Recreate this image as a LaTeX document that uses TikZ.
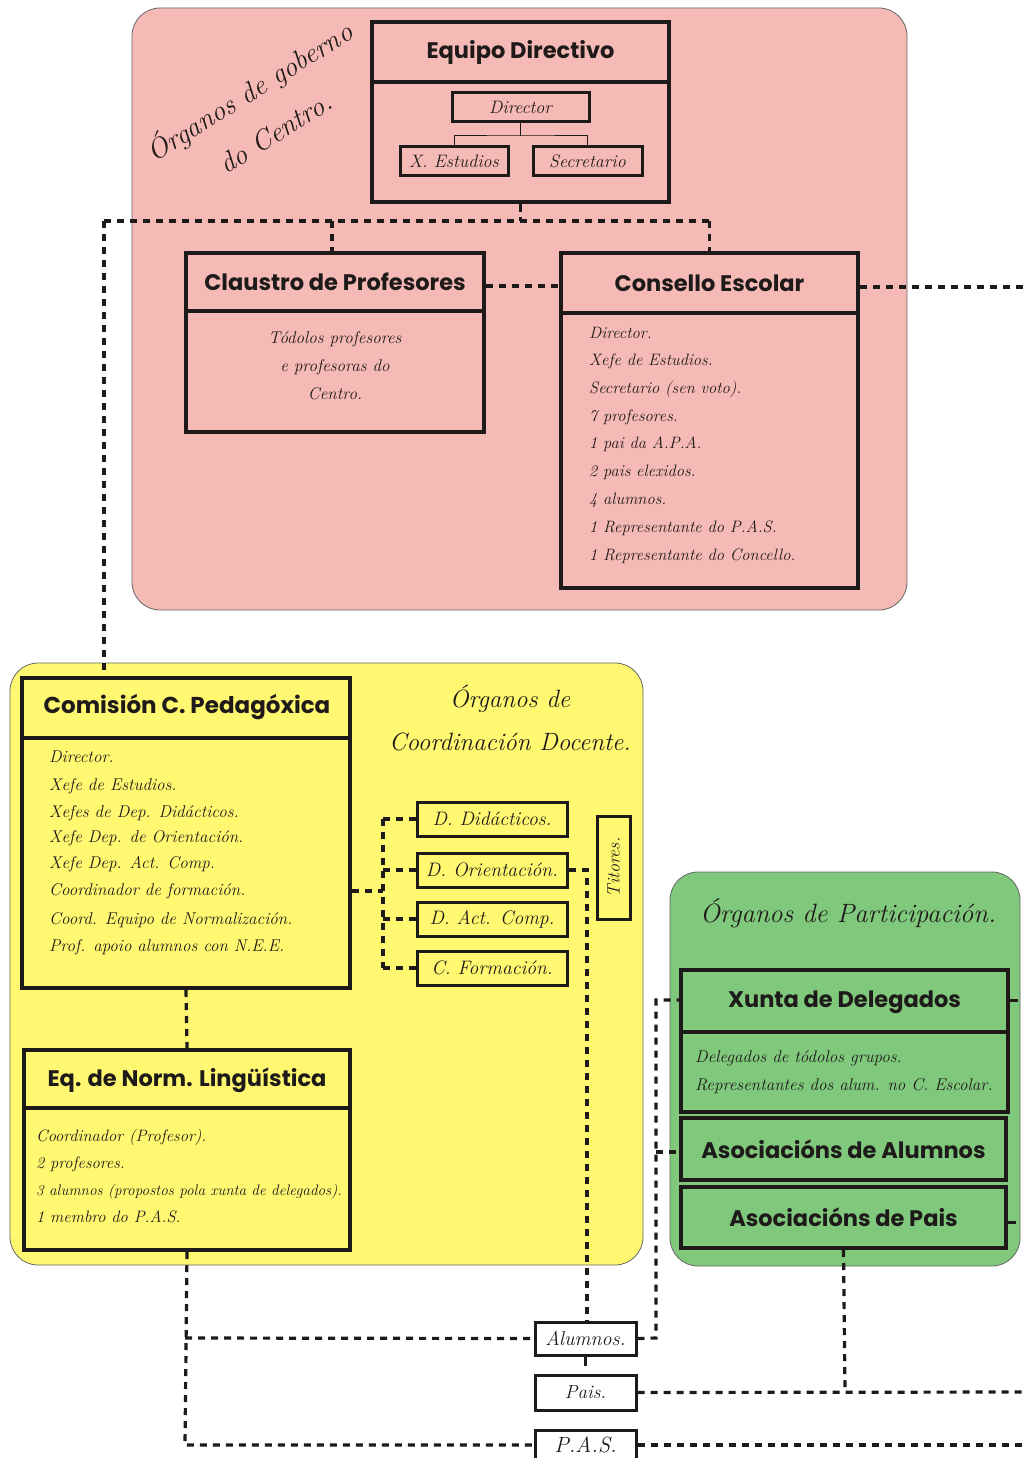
\documentclass[tikz,border=0pt]{standalone}
\usepackage{fontspec}
\newfontfamily\hdr{Poppins}
\definecolor{pinkbg}{RGB}{245,186,181}
\definecolor{yellowbg}{RGB}{255,248,112}
\definecolor{greenbg}{RGB}{128,200,124}
\definecolor{ink}{RGB}{30,26,26}
\tikzset{
  bigbox/.style={draw=ink, line width=4pt, inner sep=0pt},
  smallbox/.style={draw=ink, line width=3pt, inner sep=0pt},
  divider/.style={draw=ink, line width=4pt},
  treeline/.style={draw=ink, line width=1pt},
  dashline/.style={draw=ink, line width=3.2pt, dash pattern=on 7pt off 6pt},
  stub/.style={draw=ink, line width=3pt},
  hdrtext/.style={text=ink, inner sep=1pt, font=\hdr\bfseries\fontsize{22.5}{24}\selectfont},
  bodytext/.style={text=ink, anchor=west, inner sep=1pt, font=\itshape\fontsize{16.5}{18}\selectfont},
  bodyc/.style={text=ink, inner sep=1pt, font=\itshape\fontsize{18}{20}\selectfont},
  titletext/.style={text=ink, inner sep=1pt, font=\itshape\fontsize{25}{28}\selectfont},
  bgarea/.style={draw=black!60, line width=0.8pt, rounded corners=28pt}
}
\begin{document}
\begin{tikzpicture}[x=1pt,y=-1pt]
\useasboundingbox (0,0) rectangle (1026,1458);
\fill[white] (0,0) rectangle (1026,1458);
% background areas
\draw[bgarea, fill=pinkbg] (132,8) rectangle (907,610);
\draw[bgarea, fill=yellowbg] (10,663) rectangle (643,1265);
\draw[bgarea, fill=greenbg] (670,872) rectangle (1020,1266);

% titles
\node[titletext, font=\itshape\fontsize{28}{48}\selectfont, rotate=32, align=center] (tg) at (261,110) {Órganos de goberno\\do Centro.};
\node[titletext, align=center, font=\itshape\fontsize{25}{43}\selectfont] (tc) at (510,718) {Órganos de\\Coordinación Docente.};
\node[titletext, font=\itshape\fontsize{26.5}{30}\selectfont] (tp) at (848,913) {Órganos de Participación.};

% Equipo Directivo
\node[bigbox, minimum width=297, minimum height=180] (equipo) at (520.5,112) {};
\draw[divider] (372,82) -- (669,82);
\node[hdrtext] (equipoh) at (520.5,52) {Equipo Directivo};
\node[smallbox, minimum width=137, minimum height=29] (director) at (520.5,107.5) {};
\node[bodyc] (directort) at (director.center) {Director};
\node[smallbox, minimum width=108, minimum height=29] (xest) at (454,161.5) {};
\node[bodyc] (xestt) at (xest.center) {X. Estudios};
\node[smallbox, minimum width=109, minimum height=29] (secre) at (587.5,161.5) {};
\node[bodyc] (secret) at (secre.center) {Secretario};
\coordinate (tj) at (520.5,136);
\draw[treeline] (director.south) -- (tj);
\draw[treeline] (xest.north) |- (tj) -| (secre.north);

% Claustro
\node[bigbox, minimum width=298, minimum height=179] (claustro) at (335,342.5) {};
\draw[divider] (186,311) -- (484,311);
\node[hdrtext] (claustroh) at (335,282) {Claustro de Profesores};
\node[bodyc, align=center, font=\itshape\fontsize{17}{28}\selectfont] (claustrob) at (335,366) {Tódolos profesores\\e profesoras do\\Centro.};

% Consello
\node[bigbox, minimum width=297, minimum height=335] (consello) at (709.5,420.5) {};
\draw[divider] (561,313) -- (858,313);
\node[hdrtext] (consh) at (709.5,283) {Consello Escolar};
\node[bodytext] (c1) at (588,333) {Director.};
\node[bodytext] (c2) at (588,361) {Xefe de Estudios.};
\node[bodytext] (c3) at (588,389) {Secretario (sen voto).};
\node[bodytext] (c4) at (588,417) {7 profesores.};
\node[bodytext] (c5) at (588,444) {1 pai da A.P.A.};
\node[bodytext] (c6) at (588,472) {2 pais elexidos.};
\node[bodytext] (c7) at (588,500) {4 alumnos.};
\node[bodytext] (c8) at (588,528) {1 Representante do P.A.S.};
\node[bodytext] (c9) at (588,556) {1 Representante do Concello.};

% Comisión
\node[bigbox, minimum width=328, minimum height=310] (comision) at (186,833) {};
\draw[divider] (22,738) -- (350,738);
\node[hdrtext, font=\hdr\bfseries\fontsize{23}{24}\selectfont] (comh) at (187,707) {Comisión C. Pedagóxica};
\tikzset{comtext/.style={bodytext, font=\itshape\fontsize{17}{18}\selectfont}}
\node[comtext] (m1) at (48,757) {Director.};
\node[comtext] (m2) at (48,786) {Xefe de Estudios.};
\node[comtext] (m3) at (48,813) {Xefes de Dep. Didácticos.};
\node[comtext] (m4) at (48,838) {Xefe Dep. de Orientación.};
\node[comtext] (m5) at (48,864) {Xefe Dep. Act. Comp.};
\node[comtext] (m6) at (48,891) {Coordinador de formación.};
\node[comtext] (m7) at (48,920) {Coord. Equipo de Normalización.};
\node[comtext] (m8) at (48,947) {Prof. apoio alumnos con N.E.E.};

% Eq. Norm
\node[bigbox, minimum width=326, minimum height=200] (eqnorm) at (187,1150) {};
\draw[divider] (24,1108) -- (350,1108);
\node[hdrtext] (eqh) at (187,1080) {Eq. de Norm. Lingüística};
\node[bodytext] (e1) at (35,1137) {Coordinador (Profesor).};
\node[bodytext] (e2) at (35,1164) {2 profesores.};
\node[bodytext, font=\itshape\fontsize{15.2}{17}\selectfont] (e3) at (35,1192) {3 alumnos (propostos pola xunta de delegados).};
\node[bodytext] (e4) at (35,1217) {1 membro do P.A.S.};

% Departments
\tikzset{depbox/.style={smallbox, minimum width=150, minimum height=34}}
\node[depbox] (ddid) at (492,819) {};
\node[bodyc, font=\itshape\fontsize{19.5}{21}\selectfont] (ddidt) at (ddid.center) {D. Didácticos.};
\node[depbox] (dori) at (492,870) {};
\node[bodyc, font=\itshape\fontsize{19.5}{21}\selectfont] (dorit) at (dori.center) {D. Orientación.};
\node[depbox] (dact) at (492,919) {};
\node[bodyc, font=\itshape\fontsize{19.5}{21}\selectfont] (dactt) at (dact.center) {D. Act. Comp.};
\node[depbox] (cfor) at (492,968) {};
\node[bodyc, font=\itshape\fontsize{19.5}{21}\selectfont] (cfort) at (cfor.center) {C. Formación.};
\node[smallbox, minimum width=33, minimum height=103] (titores) at (613.5,867.5) {};
\node[bodyc, rotate=90, font=\itshape\fontsize{18}{20}\selectfont] (titorest) at (titores.center) {Titores.};

% Participación
\node[bigbox, minimum width=327, minimum height=142] (xunta) at (844.5,1041) {};
\draw[divider] (681,1032) -- (1008,1032);
\node[hdrtext] (xuntah) at (844.5,1002) {Xunta de Delegados};
\node[bodytext, font=\itshape\fontsize{17}{18}\selectfont] (x1) at (694,1058) {Delegados de tódolos grupos.};
\node[bodytext, font=\itshape\fontsize{17}{18}\selectfont] (x2) at (694,1086) {Representantes dos alum. no C. Escolar.};
\node[bigbox, minimum width=325, minimum height=62] (asalum) at (843.5,1149) {};
\node[hdrtext] (asalumt) at (asalum.center) {Asociacións de Alumnos};
\node[bigbox, minimum width=325, minimum height=61] (aspais) at (843.5,1217.5) {};
\node[hdrtext] (aspaist) at (aspais.center) {Asociacións de Pais};

% bottom boxes
\node[smallbox, minimum width=101, minimum height=33, fill=white] (alumnos) at (585.5,1338.5) {};
\node[bodyc, font=\itshape\fontsize{20}{22}\selectfont] (alumnost) at (alumnos.center) {Alumnos.};
\node[smallbox, minimum width=101, minimum height=35, fill=white] (pais) at (585.5,1392.5) {};
\node[bodyc, font=\itshape\fontsize{19}{21}\selectfont] (paist) at (pais.center) {Pais.};
\node[smallbox, minimum width=101, minimum height=34, fill=white] (pas) at (585.5,1447) {};
\node[bodyc, font=\itshape\fontsize{22}{24}\selectfont] (past) at (585.5,1445) {P.A.S.};

% coordinates for connectors
\coordinate (topj) at (520.5,221);
\coordinate (topl) at (104,221);
\coordinate (brx) at (383,891);
\coordinate (orx) at (587,870);
\coordinate (lowx) at (185,1445);
\coordinate (lowa) at (185,1338);
\coordinate (rx) at (656,1338);
\coordinate (rxa) at (656,1152);
\coordinate (xup) at (656,1000);
\coordinate (pj) at (845,1392);
\coordinate (e1r) at (1026,287);
\coordinate (e2r) at (1026,1392);
\coordinate (e3r) at (1026,1445);
\coordinate (e4r) at (1026,1000);
\coordinate (e5r) at (1026,1222);

% connectors
\draw[stub] (equipo.south) -- ++(0,8);
\draw[dashline] (equipo.south) -- (topj);
\draw[dashline] (topl) -- (709.5,221);
\draw[dashline] (332,221) -- (332,253);
\draw[dashline] (709.5,221) -- (consello.north);
\draw[dashline] (topl) -- (comision.north -| topl);
\draw[dashline] (claustro.east |- 0,286) -- (consello.west |- 0,286);
\draw[dashline] (consello.east |- 0,287) -- (e1r);
\draw[dashline] (comision.south) -- (eqnorm.north);
\draw[dashline] (comision.east |- brx) -- (brx);
\draw[dashline] (brx |- ddid.west) -- (brx |- cfor.west);
\draw[dashline] (brx |- ddid.west) -- (ddid.west);
\draw[dashline] (brx |- dori.west) -- (dori.west);
\draw[dashline] (brx |- dact.west) -- (dact.west);
\draw[dashline] (brx |- cfor.west) -- (cfor.west);
\draw[dashline] (dori.east) -- (orx) -- (alumnos.north -| orx);
\draw[stub] (alumnos.south) -- ++(0,9);
\draw[dashline] (eqnorm.south) -- (lowx) -- (pas.west |- lowx);
\draw[dashline] (lowa) -- (alumnos.west);
\draw[dashline] (alumnos.east) -- (rx) -- (xup) -- (xunta.west |- xup);
\draw[dashline] (rxa) -- (asalum.west |- rxa);
\draw[dashline] (aspais.south) -- (pj);
\draw[dashline] (pais.east) -- (e2r);
\draw[dashline] (pas.east |- lowx) -- (e3r);
\draw[stub] (xunta.east |- e4r) -- ++(8,0);
\draw[stub] (aspais.east |- e5r) -- ++(8,0);
\end{tikzpicture}
\end{document}
